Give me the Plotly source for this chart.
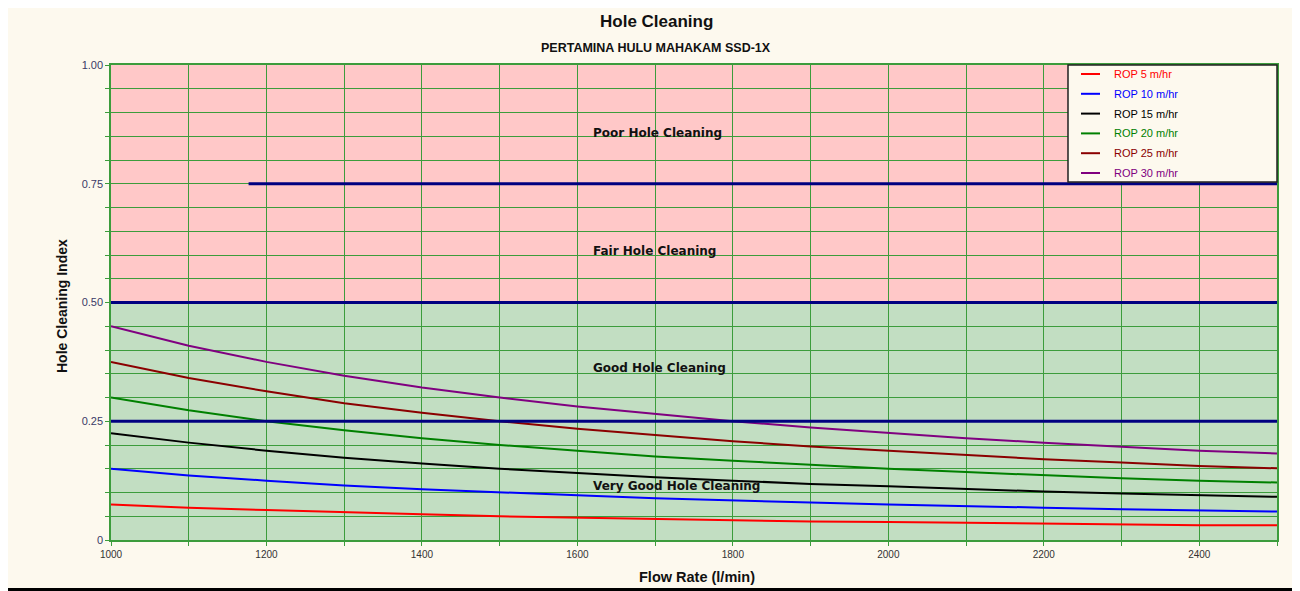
import plotly.graph_objects as go

# ---------------- data ----------------
flow_rate = [1000, 1100, 1200, 1300, 1400, 1500, 1600, 1700,
             1800, 1900, 2000, 2100, 2200, 2300, 2400, 2500]

series_names = ["ROP 5 m/hr", "ROP 10 m/hr", "ROP 15 m/hr",
                "ROP 20 m/hr", "ROP 25 m/hr", "ROP 30 m/hr"]

rop5 = [0.075, 0.068, 0.063, 0.058, 0.054, 0.050, 0.047, 0.044,
        0.042, 0.039, 0.038, 0.036, 0.034, 0.033, 0.031, 0.031]
rop10 = [0.150, 0.136, 0.125, 0.115, 0.107, 0.100, 0.094, 0.088,
         0.083, 0.079, 0.075, 0.071, 0.068, 0.065, 0.063, 0.060]
rop15 = [0.225, 0.205, 0.188, 0.173, 0.161, 0.150, 0.141, 0.132,
         0.125, 0.118, 0.113, 0.107, 0.102, 0.098, 0.094, 0.091]
rop20 = [0.300, 0.273, 0.250, 0.231, 0.214, 0.200, 0.188, 0.176,
         0.167, 0.158, 0.150, 0.143, 0.136, 0.130, 0.125, 0.121]
rop25 = [0.375, 0.341, 0.313, 0.288, 0.268, 0.250, 0.234, 0.221,
         0.208, 0.197, 0.188, 0.179, 0.170, 0.163, 0.156, 0.151]
rop30 = [0.450, 0.409, 0.375, 0.346, 0.321, 0.300, 0.281, 0.265,
         0.250, 0.237, 0.225, 0.214, 0.205, 0.196, 0.188, 0.182]

series_values = [rop5, rop10, rop15, rop20, rop25, rop30]
series_colors = ["#ff0000", "#0000ff", "#000000", "#008000", "#8b0000", "#800080"]

# zone boundaries (cleaning index thresholds)
threshold_values = [0.25, 0.50, 0.75]
threshold_start = [1000, 1000, 1177]
threshold_end = [2500, 2500, 2500]

zone_labels = ["Poor Hole Cleaning", "Fair Hole Cleaning",
               "Good Hole Cleaning", "Very Good Hole Cleaning"]
zone_label_y = [0.857, 0.608, 0.362, 0.114]
zone_label_x = 1617

# background bands
band_low = [0.0, 0.5]
band_high = [0.5, 1.0]
band_colors = ["#c2dec2", "#ffc8c8"]

y_tick_vals = [0, 0.25, 0.5, 0.75, 1.0]
y_tick_text = ["0", "0.25", "0.50", "0.75", "1.00"]

# ---------------- figure ----------------
# the page body has an 8px margin, so the figure is drawn at (8, 8)
OFF = 8
W, H = 1300 - OFF, 591 - OFF
PX0, PX1, PY0, PY1 = 111, 1277, 65, 540   # plot area in screen pixels
L, T = PX0 - OFF, PY0 - OFF
R, B = W - (PX1 - OFF), H - (PY1 - OFF)
pw, ph = PX1 - PX0, PY1 - PY0

def px_x(p):
    return (p - PX0) / pw

def px_y(p):
    return (PY1 - p) / ph

FONT = "Liberation Sans, Arial, sans-serif"
GRID = "#3c9c3c"

fig = go.Figure()

for name, vals, col in zip(series_names, series_values, series_colors):
    fig.add_trace(go.Scatter(x=flow_rate, y=vals, mode="lines", name=name,
                             line=dict(color=col, width=2), showlegend=False))

for v, x0, x1 in zip(threshold_values, threshold_start, threshold_end):
    fig.add_trace(go.Scatter(x=[x0, x1], y=[v, v], mode="lines",
                             line=dict(color="#000080", width=3), showlegend=False))

shapes = []
for y0, y1, c in zip(band_low, band_high, band_colors):
    shapes.append(dict(type="rect", xref="x", yref="y", x0=1000, x1=2500, y0=y0, y1=y1,
                       fillcolor=c, line=dict(width=0), layer="below"))

# black strip at the bottom of the image
shapes.append(dict(type="rect", xref="paper", yref="paper", x0=px_x(0), x1=px_x(1300),
                   y0=px_y(592), y1=px_y(588), fillcolor="black", line=dict(width=0)))

# manual legend box
lg_x0, lg_x1, lg_y0, lg_y1 = 1068, 1277, 65, 182
shapes.append(dict(type="rect", xref="paper", yref="paper", x0=px_x(lg_x0), x1=px_x(lg_x1),
                   y0=px_y(lg_y1), y1=px_y(lg_y0), fillcolor="#fdf9ee",
                   line=dict(color="#202020", width=1.5)))
annotations = []
for i, (name, col) in enumerate(zip(series_names, series_colors)):
    yy = 74 + i * 19.8
    shapes.append(dict(type="line", xref="paper", yref="paper", x0=px_x(1081), x1=px_x(1100),
                       y0=px_y(yy), y1=px_y(yy), line=dict(color=col, width=2)))
    annotations.append(dict(xref="paper", yref="paper", x=px_x(1112), y=px_y(yy),
                            xanchor="left", yanchor="middle", showarrow=False, text=name,
                            font=dict(family=FONT, size=11, color=col)))

for lab, yv in zip(zone_labels, zone_label_y):
    annotations.append(dict(xref="x", yref="y", x=zone_label_x, y=yv, xanchor="left",
                            yanchor="middle", showarrow=False, text="<b>%s</b>" % lab,
                            font=dict(family="DejaVu Sans, Verdana, sans-serif", size=12,
                                      color="#111111")))

annotations.append(dict(xref="paper", yref="paper", x=px_x(656), y=px_y(22), xanchor="center",
                        yanchor="middle", showarrow=False, text="<b>Hole Cleaning</b>",
                        font=dict(family=FONT, size=17, color="#111111")))
annotations.append(dict(xref="paper", yref="paper", x=px_x(656), y=px_y(48), xanchor="center",
                        yanchor="middle", showarrow=False,
                        text="<b>PERTAMINA HULU MAHAKAM SSD-1X</b>",
                        font=dict(family=FONT, size=12.5, color="#111111")))
annotations.append(dict(xref="paper", yref="paper", x=px_x(697), y=px_y(577), xanchor="center",
                        yanchor="middle", showarrow=False, text="<b>Flow Rate (l/min)</b>",
                        font=dict(family=FONT, size=14.5, color="#111111")))
annotations.append(dict(xref="paper", yref="paper", x=px_x(62), y=px_y(306), xanchor="center",
                        yanchor="middle", showarrow=False, text="<b>Hole Cleaning Index</b>",
                        textangle=-90, font=dict(family=FONT, size=14, color="#111111")))

fig.update_layout(
    width=W, height=H,
    margin=dict(l=L, r=R, t=T, b=B, pad=0),
    paper_bgcolor="#fdf9ee",
    plot_bgcolor="#fdf9ee",
    shapes=shapes,
    annotations=annotations,
    showlegend=False,
)

fig.update_xaxes(range=[1000, 2500], tick0=1000, dtick=200, showgrid=True, gridcolor=GRID,
                 gridwidth=1, ticks="outside", ticklen=4, tickcolor=GRID,
                 showline=True, linecolor=GRID, linewidth=1.5, mirror=True, zeroline=False,
                 tickfont=dict(family=FONT, size=10, color="#333333"),
                 minor=dict(dtick=100, showgrid=True, gridcolor=GRID, gridwidth=1,
                            ticks="outside", ticklen=4, tickcolor=GRID))
fig.update_yaxes(range=[0, 1], tickvals=y_tick_vals, ticktext=y_tick_text, showgrid=True,
                 gridcolor=GRID, gridwidth=1, ticks="outside", ticklen=4, tickcolor=GRID,
                 showline=True, linecolor=GRID, linewidth=1.5, mirror=True, zeroline=False,
                 tickfont=dict(family=FONT, size=11, color="#3a3a66"),
                 minor=dict(dtick=0.05, tick0=0, showgrid=True, gridcolor=GRID, gridwidth=1,
                            ticks="outside", ticklen=4, tickcolor=GRID))

fig.write_html("out.html")
